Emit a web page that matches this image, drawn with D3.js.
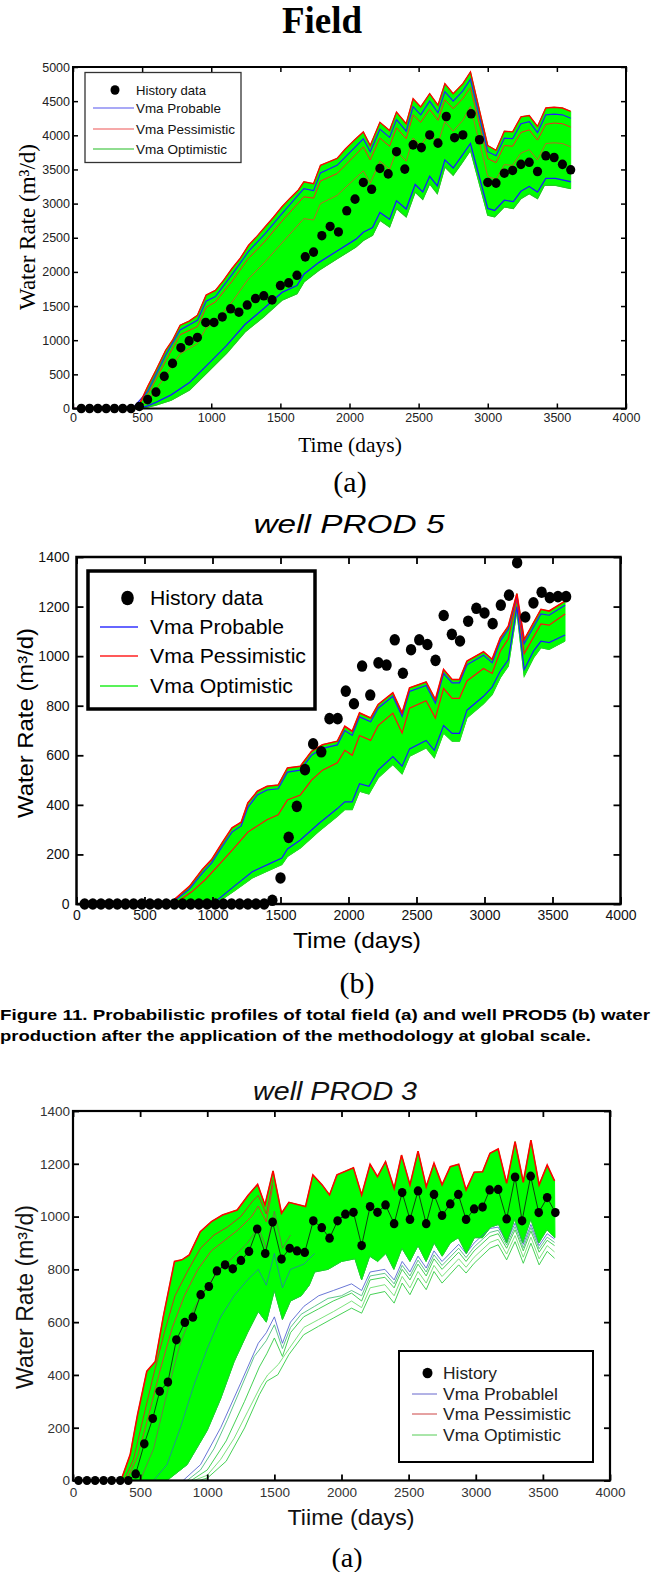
<!DOCTYPE html>
<html><head><meta charset="utf-8">
<script src="https://cdn.jsdelivr.net/npm/d3@7"></script>
<style>body{margin:0;background:#fff}svg{display:block}</style>
</head><body>
<svg id="fig" width="651" height="1572"></svg>
<script>
// ---------------- DATA ----------------
const xTicks = [0,500,1000,1500,2000,2500,3000,3500,4000];
const p1YTicks = [0,500,1000,1500,2000,2500,3000,3500,4000,4500,5000];
const p2YTicks = [0,200,400,600,800,1000,1200,1400];
const p3YTicks = [0,200,400,600,800,1000,1200,1400];

const histDays = [60,120,180,240,300,360,420,480,540,600,660,720,780,840,900,960,1020,1080,1140,1200,1260,1320,1380,1440,1500,1560,1620,1680,1740,1800,1860,1920,1980,2040,2100,2160,2220,2280,2340,2400,2460,2520,2580,2640,2700,2760,2820,2880,2940,3000,3060,3120,3180,3240,3300,3360,3420,3480,3540,3600];

// Panel 1: Field
const p1History = [0,0,0,0,0,0,0,30,130,240,470,660,890,990,1040,1260,1260,1340,1460,1410,1515,1610,1650,1590,1800,1840,1950,2220,2290,2530,2665,2585,2895,3065,3310,3210,3515,3435,3760,3505,3860,3820,4005,3885,4275,3965,4005,4315,3935,3310,3300,3445,3485,3575,3605,3470,3700,3675,3575,3495];
const p1RedTop = [[0,0],[420,0],[480,60],[540,320],[600,560],[670,850],[720,1000],[775,1220],[840,1280],[900,1365],[963,1660],[1030,1730],[1090,1880],[1150,2050],[1210,2200],[1270,2390],[1330,2520],[1390,2660],[1450,2800],[1510,2950],[1570,3080],[1630,3200],[1670,3320],[1740,3290],[1790,3560],[1850,3610],[1910,3660],[1970,3800],[2040,3940],[2100,4050],[2150,3850],[2220,4190],[2290,4070],[2340,4340],[2410,4170],[2460,4535],[2515,4415],[2580,4610],[2640,4440],[2690,4756],[2750,4610],[2820,4756],[2875,4927],[3000,3850],[3060,3780],[3120,4060],[3180,4050],[3240,4270],[3300,4290],[3360,4130],[3420,4400],[3480,4410],[3540,4400],[3600,4350]];
const p1RedMid = [[0,0],[440,0],[540,200],[670,700],[775,1080],[900,1200],[963,1480],[1030,1560],[1150,1860],[1270,2200],[1390,2450],[1510,2740],[1670,3100],[1740,3080],[1790,3330],[1910,3440],[2100,3830],[2150,3640],[2220,3960],[2290,3840],[2340,4110],[2410,3950],[2460,4300],[2515,4190],[2580,4380],[2640,4220],[2690,4520],[2750,4390],[2820,4540],[2875,4700],[3000,3660],[3060,3600],[3120,3850],[3180,3840],[3240,4040],[3300,4080],[3360,3930],[3420,4160],[3480,4180],[3540,4170],[3600,4120]];
const p1RedLow = [[0,0],[460,0],[540,110],[670,480],[775,800],[900,950],[963,1180],[1030,1270],[1150,1560],[1270,1900],[1390,2150],[1510,2420],[1670,2780],[1740,2760],[1790,3000],[1910,3120],[2100,3480],[2150,3300],[2220,3620],[2290,3500],[2340,3770],[2410,3620],[2460,3960],[2515,3850],[2580,4040],[2640,3880],[2690,4200],[2750,4060],[2820,4220],[2875,4420],[3000,3400],[3060,3350],[3120,3570],[3180,3560],[3240,3740],[3300,3790],[3360,3640],[3420,3880],[3480,3890],[3540,3880],[3600,3830]];
const p1BlueHi = [[0,0],[430,0],[540,250],[670,780],[775,1150],[900,1290],[963,1570],[1030,1640],[1150,1960],[1270,2300],[1390,2560],[1510,2850],[1670,3220],[1740,3190],[1790,3450],[1910,3560],[2100,3950],[2150,3760],[2220,4090],[2290,3970],[2340,4230],[2410,4060],[2460,4420],[2515,4300],[2580,4500],[2640,4330],[2690,4640],[2750,4500],[2820,4650],[2875,4820],[3000,3760],[3060,3700],[3120,3960],[3180,3950],[3240,4170],[3300,4200],[3360,4040],[3420,4300],[3480,4310],[3540,4300],[3600,4250]];
const p1BlueLo = [[0,0],[470,0],[540,40],[600,90],[710,200],[843,380],[977,650],[1110,920],[1244,1230],[1378,1460],[1512,1700],[1620,1800],[1672,1970],[1780,2140],[1913,2310],[2047,2480],[2100,2580],[2167,2650],[2220,2870],[2290,2770],[2340,3040],[2410,2920],[2475,3280],[2530,3170],[2580,3400],[2635,3260],[2690,3640],[2750,3520],[2810,3690],[2875,3880],[3000,2930],[3050,2900],[3120,3050],[3185,3030],[3240,3180],[3300,3250],[3360,3170],[3420,3370],[3490,3370],[3600,3320]];
const p1GreenLow = [[0,0],[480,0],[540,20],[600,50],[710,120],[843,270],[977,537],[1110,805],[1244,1120],[1378,1340],[1512,1585],[1620,1680],[1672,1855],[1780,2025],[1913,2195],[2047,2365],[2100,2460],[2167,2536],[2220,2755],[2290,2658],[2340,2927],[2410,2805],[2475,3170],[2530,3060],[2580,3290],[2635,3146],[2690,3536],[2750,3415],[2810,3585],[2875,3780],[3000,2830],[3050,2805],[3120,2951],[3185,2927],[3240,3073],[3300,3146],[3360,3073],[3410,3268],[3490,3268],[3600,3220]];

// Panel 2: well PROD 5
const p2History = [0,0,0,0,0,0,0,0,0,0,0,0,0,0,0,0,0,0,0,0,0,0,0,15,105,269,394,542,646,614,748,748,859,808,960,843,973,964,1066,931,1026,1066,1047,983,1164,1088,1061,1141,1193,1174,1131,1206,1246,1377,1158,1215,1258,1236,1240,1240];
const p2RedTop = [[0,0],[680,0],[830,71],[925,139],[993,179],[1075,250],[1143,307],[1211,330],[1260,408],[1330,455],[1401,475],[1483,480],[1551,549],[1646,556],[1728,616],[1809,643],[1918,657],[1973,717],[2027,697],[2081,771],[2163,751],[2218,805],[2326,852],[2394,771],[2449,872],[2571,896],[2639,825],[2699,946],[2762,906],[2816,906],[2871,980],[2993,1018],[3056,987],[3116,1074],[3175,1121],[3238,1252],[3292,1067],[3415,1189],[3475,1182],[3592,1222]];
const p2RedMid = [[0,0],[720,0],[850,50],[950,100],[1050,160],[1150,220],[1260,290],[1400,340],[1483,360],[1551,420],[1646,440],[1728,500],[1809,540],[1918,570],[1973,620],[2027,600],[2081,680],[2163,660],[2218,720],[2326,770],[2394,690],[2449,790],[2571,820],[2639,750],[2699,870],[2762,830],[2816,830],[2871,900],[2993,950],[3056,930],[3116,1020],[3175,1070],[3238,1230],[3292,1010],[3415,1130],[3475,1125],[3592,1170]];
const p2BlueHi = [[0,0],[690,0],[830,60],[925,125],[993,165],[1075,235],[1143,290],[1211,315],[1260,390],[1330,440],[1401,460],[1483,465],[1551,532],[1646,540],[1728,600],[1809,628],[1918,642],[1973,700],[2027,680],[2081,755],[2163,735],[2218,790],[2326,838],[2394,757],[2449,858],[2571,882],[2639,810],[2699,930],[2762,892],[2816,892],[2871,965],[2993,1004],[3056,973],[3116,1060],[3175,1108],[3238,1245],[3292,1050],[3415,1170],[3475,1165],[3592,1205]];
const p2BlueLo = [[0,0],[1000,0],[1156,70],[1292,130],[1429,165],[1510,185],[1551,222],[1646,258],[1782,325],[1918,385],[1973,412],[2027,412],[2081,485],[2150,475],[2218,540],[2326,595],[2394,556],[2449,626],[2571,660],[2631,620],[2699,720],[2762,688],[2816,688],[2871,782],[2993,838],[3056,875],[3116,940],[3175,985],[3238,1200],[3292,945],[3360,1020],[3415,1060],[3475,1055],[3592,1085]];
const p2GreenLow = [[0,0],[1020,0],[1156,51],[1292,105],[1429,139],[1510,159],[1551,192],[1646,226],[1782,293],[1918,354],[1973,381],[2027,381],[2081,455],[2150,444],[2218,509],[2326,563],[2394,525],[2449,596],[2571,630],[2631,590],[2699,690],[2762,657],[2816,657],[2871,751],[2993,808],[3056,845],[3116,913],[3175,960],[3238,1182],[3292,919],[3360,993],[3415,1034],[3475,1027],[3592,1061]];

// Panel 3: well PROD 3
const p3Days = [41,104,165,228,288,352,412,467,531,594,646,707,770,833,893,951,1012,1072,1133,1190,1251,1311,1372,1432,1487,1553,1614,1669,1726,1790,1853,1911,1971,2029,2089,2150,2213,2268,2328,2392,2452,2510,2570,2631,2689,2749,2810,2870,2928,2988,3051,3104,3167,3230,3293,3345,3409,3469,3532,3593];
const p3History = [0,0,0,0,0,0,0,25,139,235,338,373,533,599,619,704,735,794,817,802,834,868,953,860,979,839,880,870,864,984,958,918,984,1009,1016,890,1038,1016,1044,973,1091,989,1097,973,1084,1004,1048,1084,989,1029,1036,1101,1103,991,1150,984,1153,1015,1072,1015];
const p3RedTop = [[0,0],[357,0],[426,98],[481,250],[550,414],[613,451],[673,622],[756,830],[811,836],[866,855],[948,943],[1031,981],[1113,1006],[1223,1025],[1306,1082],[1375,1122],[1430,1044],[1490,1173],[1553,1013],[1608,1054],[1732,1038],[1787,1158],[1856,1120],[1911,1082],[1966,1158],[2089,1185],[2150,1082],[2213,1198],[2268,1151],[2328,1208],[2392,1107],[2447,1233],[2510,1120],[2570,1248],[2631,1113],[2689,1202],[2749,1120],[2810,1189],[2873,1198],[2928,1101],[2988,1168],[3051,1170],[3106,1240],[3167,1256],[3230,1126],[3293,1284],[3354,1130],[3411,1290],[3472,1120],[3532,1195],[3587,1135]];
const p3Red2 = [[0,0],[380,0],[450,80],[520,230],[600,400],[680,560],[760,700],[850,790],[950,880],[1050,930],[1150,960],[1250,1000],[1340,1060],[1380,1080],[1440,1010],[1490,1140]];
const p3Red3 = [[0,0],[400,0],[480,90],[560,240],[650,420],[740,580],[830,700],[930,800],[1030,870],[1130,910],[1230,950],[1330,1000],[1380,1040],[1440,980],[1490,1120]];
const p3CoreLow = [[400,0],[700,0],[850,60],[1000,190],[1100,310],[1200,450],[1300,560],[1380,640],[1440,600],[1500,720],[1560,610],[1620,680],[1700,700],[1760,740],[1800,790],[1900,800],[2000,830],[2100,840],[2150,760],[2210,850],[2270,830],[2330,860],[2390,800],[2450,880],[2510,830],[2570,890],[2630,830],[2690,900],[2750,850],[2810,900],[2870,920],[2930,860],[2990,920],[3050,920],[3110,960],[3170,970],[3230,900],[3290,990],[3350,900],[3410,990],[3470,900],[3530,950],[3590,920]];
const p3FanB = [[0,0],[600,0],[700,60],[800,200],[900,360],[1000,500],[1100,620],[1200,700],[1300,760],[1380,800],[1440,740],[1500,860],[1560,730],[1620,800],[1720,820],[1800,860]];
const p3FanC = [[0,0],[500,0],[600,120],[700,330],[800,520],[900,650],[1000,740],[1100,800],[1200,850],[1300,900],[1380,960],[1440,880],[1500,1020],[1560,880],[1620,930]];
const p3BlueLow = [[0,0],[820,0],[950,60],[1100,200],[1250,370],[1380,520],[1440,560],[1500,620],[1560,520],[1620,600],[1720,660],[1830,700],[1940,720],[2075,745],[2150,720],[2213,790],[2323,800],[2392,760],[2452,830],[2510,790],[2570,850],[2631,805],[2689,870],[2749,830],[2873,895],[2928,860],[2988,900],[3106,955],[3167,960],[3230,905],[3293,975],[3354,895],[3411,970],[3472,890],[3532,935],[3587,915]];
const p3FanD = [[0,0],[850,0],[950,40],[1050,120],[1150,230],[1250,350],[1350,470],[1440,530],[1500,590],[1560,500],[1620,580],[1700,630],[1800,660],[1900,690],[2000,700],[2075,720],[2150,700],[2213,775],[2323,785],[2392,745],[2452,815],[2510,775],[2570,835],[2631,790],[2689,855],[2749,815],[2873,880],[2928,845],[2988,885],[3106,940],[3167,948],[3230,892],[3293,962],[3354,882],[3411,958],[3472,878],[3532,922],[3587,902]];
const p3GreenMid = [[0,0],[880,0],[1000,40],[1141,150],[1278,300],[1388,430],[1443,480],[1500,540],[1560,470],[1620,560],[1718,620],[1828,650],[1938,680],[2075,710],[2150,680],[2213,760],[2323,770],[2392,730],[2452,800],[2510,760],[2570,820],[2631,775],[2689,840],[2749,800],[2873,865],[2928,830],[2988,870],[3106,925],[3167,935],[3230,880],[3293,950],[3354,870],[3411,945],[3472,865],[3532,910],[3587,890]];
const p3FanE = [[0,0],[900,0],[1000,20],[1100,80],[1200,160],[1300,260],[1400,360],[1450,400],[1530,440],[1610,500],[1720,580],[1830,610],[1940,640],[2075,680],[2150,655],[2213,730],[2323,742],[2392,700],[2452,773],[2510,730],[2570,792],[2631,748],[2689,815],[2749,773],[2873,840],[2928,808],[2988,846],[3106,902],[3167,914],[3230,858],[3293,928],[3354,846],[3411,922],[3472,840],[3532,890],[3587,866]];
const p3GreenLow = [[0,0],[940,0],[1003,10],[1141,73],[1278,199],[1388,325],[1443,376],[1526,401],[1608,477],[1718,552],[1828,584],[1938,615],[2075,653],[2150,634],[2213,704],[2323,716],[2392,672],[2452,748],[2510,704],[2570,767],[2631,723],[2689,792],[2749,748],[2873,817],[2928,786],[2988,823],[3106,880],[3167,893],[3230,836],[3293,905],[3354,823],[3411,899],[3472,817],[3532,868],[3587,842]];

// ---------------- DRAWING ----------------
const svg = d3.select('#fig');
const SANS = "'Liberation Sans', Arial, sans-serif";
const SERIF = "'Liberation Serif', 'Times New Roman', serif";

function txt(x, y, s, o) {
  const t = svg.append('text').attr('x', x).attr('y', y).text(s)
    .attr('font-family', o.ff || SANS).attr('font-size', o.fs)
    .attr('text-anchor', o.anchor || 'start').attr('fill', o.fill || '#000');
  if (o.bold) t.attr('font-weight', 'bold');
  if (o.italic) t.attr('font-style', 'italic');
  if (o.len) t.attr('textLength', o.len).attr('lengthAdjust', 'spacingAndGlyphs');
  if (o.rot) t.attr('transform', `rotate(-90,${x},${y})`);
  return t;
}

function panel(o) {
  const g = svg.append('g');
  const x = d3.scaleLinear().domain([0, 4000]).range(o.xr);
  const y = d3.scaleLinear().domain([0, o.ymax]).range(o.yr);
  const line = d3.line().x(d => x(d[0])).y(d => y(d[1]));
  const clipId = 'clip' + o.id;
  g.append('clipPath').attr('id', clipId).append('rect')
    .attr('x', o.xr[0]).attr('y', o.yr[1]).attr('width', o.xr[1] - o.xr[0]).attr('height', o.yr[0] - o.yr[1]);
  const plot = g.append('g').attr('clip-path', `url(#${clipId})`);
  (o.bands || []).forEach(b => {
    plot.append('path').attr('d', line(b.top.concat(b.bottom.slice().reverse())) + 'Z')
      .attr('fill', b.color).attr('stroke', b.color).attr('stroke-width', 1).attr('opacity', b.op || 1);
  });
  o.lines.forEach(l => {
    plot.append('path').attr('d', line(l.data)).attr('fill', 'none')
      .attr('stroke', l.color).attr('stroke-width', l.w || 1).attr('opacity', l.op || 1);
  });
  const pts = o.days.map((d, i) => [d, o.hist[i]]);
  if (o.histLine) {
    plot.append('path').attr('d', line(pts)).attr('fill', 'none').attr('stroke', '#111').attr('stroke-width', 0.8);
  }
  g.selectAll('.dot' + o.id).data(pts).enter().append('ellipse')
    .attr('cx', d => x(d[0])).attr('cy', d => y(d[1]))
    .attr('rx', o.rx).attr('ry', o.ry).attr('fill', '#000');

  // axes
  const tl = o.tickLen;
  const fmt = d3.format('d');
  g.append('g').attr('transform', `translate(0,${o.yr[0]})`)
    .call(d3.axisBottom(x).tickValues(xTicks).tickFormat(fmt).tickSizeInner(-tl).tickSizeOuter(0).tickPadding(o.xPad));
  g.append('g').attr('transform', `translate(${o.xr[0]},0)`)
    .call(d3.axisLeft(y).tickValues(o.yTicks).tickFormat(fmt).tickSizeInner(-tl).tickSizeOuter(0).tickPadding(o.yPad));
  g.append('g').attr('transform', `translate(0,${o.yr[1]})`)
    .call(d3.axisTop(x).tickValues(xTicks).tickFormat('').tickSizeInner(-tl).tickSizeOuter(0));
  g.append('g').attr('transform', `translate(${o.xr[1]},0)`)
    .call(d3.axisRight(y).tickValues(o.yTicks).tickFormat('').tickSizeInner(-tl).tickSizeOuter(0));
  g.selectAll('.domain').remove();
  g.selectAll('.tick line').attr('stroke', '#000').attr('stroke-width', o.tickW);
  g.selectAll('.tick text').attr('font-family', SANS).attr('font-size', o.tickFs).attr('fill', o.tickFill);
  g.append('rect').attr('x', o.xr[0]).attr('y', o.yr[1])
    .attr('width', o.xr[1] - o.xr[0]).attr('height', o.yr[0] - o.yr[1])
    .attr('fill', 'none').attr('stroke', '#000').attr('stroke-width', o.frameW);

  // legend
  const L = o.legend;
  g.append('rect').attr('x', L.x).attr('y', L.y).attr('width', L.w).attr('height', L.h)
    .attr('fill', '#fff').attr('stroke', L.stroke).attr('stroke-width', L.sw);
  L.rows.forEach(r => {
    if (r.dot) {
      g.append('ellipse').attr('cx', L.dotX).attr('cy', r.y).attr('rx', L.drx).attr('ry', L.dry).attr('fill', '#000');
    } else {
      g.append('line').attr('x1', L.l1).attr('x2', L.l2).attr('y1', r.y).attr('y2', r.y)
        .attr('stroke', r.color).attr('stroke-width', L.lw);
    }
    const t = g.append('text').attr('x', L.tx).attr('y', r.y).attr('dy', '0.36em').text(r.label)
      .attr('font-family', SANS).attr('font-size', L.fs).attr('fill', L.fill);
    if (r.len) t.attr('textLength', r.len).attr('lengthAdjust', 'spacingAndGlyphs');
  });
}

// ---- Panel 1: Field ----
txt(322, 33, 'Field', {ff: SERIF, fs: 37, bold: true, anchor: 'middle'});
panel({
  id: 1, xr: [73, 626], yr: [408.5, 67], ymax: 5000, yTicks: p1YTicks,
  days: histDays, hist: p1History, rx: 4.6, ry: 4.8,
  bands: [{top: p1RedTop, bottom: p1GreenLow, color: '#00ff00'}],
  lines: [
    {data: p1GreenLow, color: '#22cc22', w: 1.2},
    {data: p1BlueLo, color: '#1a1aff', w: 1.3},
    {data: p1RedLow, color: '#ff3030', w: 0.9, op: 0.8},
    {data: p1RedMid, color: '#ff2020', w: 1},
    {data: p1BlueHi, color: '#2020ff', w: 1.2},
    {data: p1RedTop, color: '#ff0000', w: 1.4}
  ],
  tickLen: 5, tickW: 1.5, frameW: 2, xPad: 5, yPad: 3, tickFs: 12.5, tickFill: '#222',
  legend: {x: 85, y: 72.5, w: 156, h: 90, stroke: '#333', sw: 1.3, dotX: 115, drx: 4.5, dry: 4.8,
    l1: 93, l2: 134, lw: 1.2, tx: 136, fs: 13.5, fill: '#111',
    rows: [
      {dot: true, y: 90, label: 'History data', len: 70},
      {y: 108, color: '#5555ee', label: 'Vma Probable', len: 85},
      {y: 129, color: '#ee5555', label: 'Vma Pessimistic', len: 99},
      {y: 149, color: '#22bb22', label: 'Vma Optimistic', len: 91}
    ]}
});
txt(350, 452, 'Time (days)', {ff: SERIF, fs: 21.5, anchor: 'middle'});
txt(35, 227, 'Water Rate (m\u00b3/d)', {ff: SERIF, fs: 23, anchor: 'middle', rot: true});
txt(350, 492, '(a)', {ff: SERIF, fs: 30, anchor: 'middle'});

// ---- Panel 2: well PROD 5 ----
txt(349, 533, 'well PROD 5', {fs: 25, italic: true, anchor: 'middle', len: 191});
panel({
  id: 2, xr: [76.5, 620.5], yr: [904, 557], ymax: 1400, yTicks: p2YTicks,
  days: histDays, hist: p2History, rx: 5.2, ry: 5.8,
  bands: [{top: p2RedTop, bottom: p2GreenLow, color: '#00ff00'}],
  lines: [
    {data: p2GreenLow, color: '#22dd22', w: 1.2},
    {data: p2BlueLo, color: '#1a1aff', w: 1.2},
    {data: p2RedMid, color: '#ff1010', w: 1.2},
    {data: p2BlueHi, color: '#2020ff', w: 1.2},
    {data: p2RedTop, color: '#ff0000', w: 1.6}
  ],
  tickLen: 7, tickW: 1.8, frameW: 2.5, xPad: 6, yPad: 7, tickFs: 14, tickFill: '#111',
  legend: {x: 88, y: 571, w: 227, h: 138, stroke: '#000', sw: 3.5, dotX: 127.5, drx: 6.3, dry: 7.3,
    l1: 100, l2: 138, lw: 1.3, tx: 150, fs: 20, fill: '#000',
    rows: [
      {dot: true, y: 598, label: 'History data', len: 113},
      {y: 627, color: '#3333ff', label: 'Vma Probable', len: 134},
      {y: 656, color: '#ff2222', label: 'Vma Pessimistic', len: 156},
      {y: 686, color: '#22ee22', label: 'Vma Optimistic', len: 143}
    ]}
});
txt(357, 948, 'Time (days)', {fs: 22, anchor: 'middle', len: 128});
txt(33, 723, 'Water Rate  (m\u00b3/d)', {fs: 22, anchor: 'middle', rot: true, len: 190});
txt(357, 993, '(b)', {ff: SERIF, fs: 30, anchor: 'middle'});

// ---- Caption ----
txt(0, 1020, 'Figure 11. Probabilistic profiles of total field (a) and well PROD5 (b) water', {fs: 15, bold: true, len: 650});
txt(0, 1041, 'production after the application of the methodology at global scale.', {fs: 15, bold: true, len: 591});

// ---- Panel 3: well PROD 3 ----
txt(335, 1100, 'well PROD 3', {fs: 25, italic: true, anchor: 'middle', len: 164, fill: '#111'});
panel({
  id: 3, xr: [73, 610], yr: [1480.5, 1111], ymax: 1400, yTicks: p3YTicks,
  days: p3Days, hist: p3History, rx: 4.3, ry: 4.6, histLine: true,
  bands: [{top: p3RedTop, bottom: p3CoreLow, color: '#00ff00'}],
  lines: [
    {data: p3GreenLow, color: '#33cc44', w: 1, op: 0.9},
    {data: p3FanE, color: '#66dd66', w: 1, op: 0.85},
    {data: p3GreenMid, color: '#33cc44', w: 1, op: 0.9},
    {data: p3FanD, color: '#44bb77', w: 1, op: 0.85},
    {data: p3BlueLow, color: '#4455cc', w: 1, op: 0.8},
    {data: p3CoreLow, color: '#22cc33', w: 1},
    {data: p3FanB, color: '#3355dd', w: 1, op: 0.6},
    {data: p3FanC, color: '#aa3366', w: 1, op: 0.6},
    {data: p3Red3, color: '#dd3333', w: 1, op: 0.9},
    {data: p3Red2, color: '#dd2222', w: 1, op: 0.9},
    {data: p3RedTop, color: '#ff0000', w: 1.6}
  ],
  tickLen: 6, tickW: 1.8, frameW: 2.2, xPad: 7, yPad: 3, tickFs: 13.5, tickFill: '#333',
  legend: {x: 399, y: 1351, w: 194, h: 111, stroke: '#000', sw: 2, dotX: 427.5, drx: 5, dry: 5.3,
    l1: 412, l2: 437, lw: 1, tx: 443, fs: 17, fill: '#222',
    rows: [
      {dot: true, y: 1373, label: 'History', len: 54},
      {y: 1394, color: '#6666cc', label: 'Vma Probablel', len: 115},
      {y: 1414, color: '#cc4444', label: 'Vma Pessimistic', len: 128},
      {y: 1435, color: '#55cc55', label: 'Vma Optimistic', len: 118}
    ]}
});
txt(351, 1525, 'Tiime (days)', {fs: 22, anchor: 'middle', len: 127, fill: '#111'});
txt(33, 1297, 'Water Rate (m\u00b3/d)', {fs: 23, anchor: 'middle', rot: true, len: 184, fill: '#111'});
txt(347, 1567, '(a)', {ff: SERIF, fs: 28, anchor: 'middle'});
</script>
</body></html>
